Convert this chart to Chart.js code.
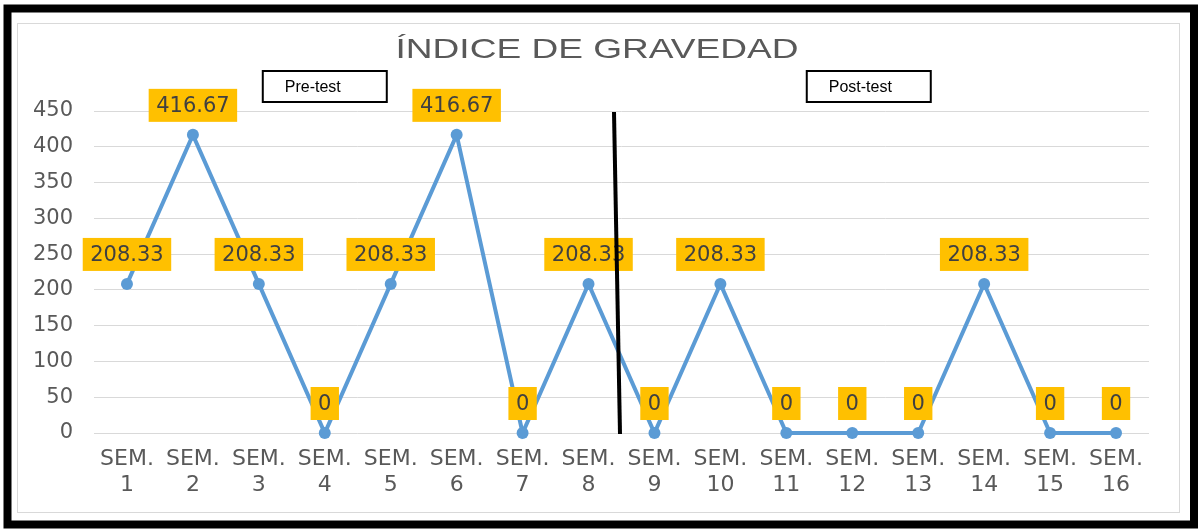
<!DOCTYPE html>
<html>
<head>
<meta charset="utf-8">
<script src="https://cdn.jsdelivr.net/npm/chart.js@4.4.1/dist/chart.umd.min.js"></script>
<style>
  html, body { margin: 0; padding: 0; background: #ffffff; }
  #wrap { width: 1198px; height: 529px; position: relative; }
  canvas { display: block; }
</style>
</head>
<body>
<div id="wrap"><canvas id="c" width="1198" height="529"></canvas></div>
<script>
// ---- data ----
const chartTitle = 'ÍNDICE DE GRAVEDAD';
const weekLabels = ['SEM. 1','SEM. 2','SEM. 3','SEM. 4','SEM. 5','SEM. 6','SEM. 7','SEM. 8',
                    'SEM. 9','SEM. 10','SEM. 11','SEM. 12','SEM. 13','SEM. 14','SEM. 15','SEM. 16'];
const indiceValues = [208.33, 416.67, 208.33, 0, 208.33, 416.67, 0, 208.33,
                      0, 208.33, 0, 0, 0, 208.33, 0, 0];
const yTickValues = [0, 50, 100, 150, 200, 250, 300, 350, 400, 450];
const phaseNames = ['Pre-test', 'Post-test'];
const phaseCenters = [3, 11.25];     // category position of the phase label boxes
const phaseDivider = 7.5;            // between SEM. 8 and SEM. 9

const LINE_BLUE = '#5B9BD5';
const LABEL_BG = '#FFC000';
const TEXT_GRAY = '#595959';
const GRID = '#d9d9d9';

const framePlugin = {
  id: 'frame',
  beforeDraw(chart) {
    const ctx = chart.ctx;
    ctx.save();
    ctx.fillStyle = '#ffffff';
    ctx.fillRect(0, 0, chart.width, chart.height);
    ctx.strokeStyle = GRID;
    ctx.lineWidth = 1;
    ctx.strokeRect(17.5, 23.5, 1162, 489);
    // title
    ctx.fillStyle = TEXT_GRAY;
    ctx.font = '28px "Liberation Sans", Arial, sans-serif';
    ctx.textAlign = 'center';
    ctx.textBaseline = 'alphabetic';
    const w = ctx.measureText(chartTitle).width;
    const sx = 403 / w;
    ctx.translate(597, 58);
    ctx.scale(sx, 1);
    ctx.fillText(chartTitle, 0, 0);
    ctx.restore();
  },
  afterDraw(chart) {
    const ctx = chart.ctx;
    ctx.save();
    ctx.strokeStyle = '#000000';
    ctx.lineWidth = 8;
    ctx.strokeRect(7.5, 8.5, 1186.5, 516);
    ctx.restore();
  }
};

const labelPlugin = {
  id: 'valueLabels',
  afterDatasetsDraw(chart) {
    const ctx = chart.ctx;
    const meta = chart.getDatasetMeta(0);
    const xs = chart.scales.x, ys = chart.scales.y;
    ctx.save();
    // value labels
    ctx.font = '21px "DejaVu Sans", sans-serif';
    ctx.textAlign = 'center';
    ctx.textBaseline = 'middle';
    meta.data.forEach((pt, i) => {
      const txt = String(indiceValues[i]);
      const tw = ctx.measureText(txt).width;
      const bw = tw + 15, bh = 33;
      const bx = pt.x - bw / 2;
      const by = pt.y - 13 - bh;
      ctx.fillStyle = LABEL_BG;
      ctx.fillRect(bx, by, bw, bh);
      ctx.fillStyle = '#404040';
      ctx.fillText(txt, pt.x, by + bh / 2 + 1);
    });
    // phase boxes
    ctx.font = '16px "Liberation Sans", Arial, sans-serif';
    ctx.textAlign = 'left';
    phaseNames.forEach((name, i) => {
      const cx = xs.getPixelForValue(phaseCenters[i]);
      const bw = 124, bh = 31;
      const bx = cx - bw / 2, by = 71;
      ctx.fillStyle = '#ffffff';
      ctx.fillRect(bx, by, bw, bh);
      ctx.strokeStyle = '#000000';
      ctx.lineWidth = 2;
      ctx.strokeRect(bx, by, bw, bh);
      ctx.fillStyle = '#000000';
      ctx.fillText(name, bx + 22, by + bh / 2 + 1);
    });
    // divider line
    const dx = xs.getPixelForValue(phaseDivider);
    ctx.strokeStyle = '#000000';
    ctx.lineWidth = 4;
    ctx.beginPath();
    ctx.moveTo(dx - 7.5, ys.getPixelForValue(450) + 1);
    ctx.lineTo(dx - 1.5, ys.getPixelForValue(0) + 1);
    ctx.stroke();
    ctx.restore();
  }
};

new Chart(document.getElementById('c'), {
  type: 'line',
  data: {
    labels: weekLabels.map(s => s.split(' ')),
    datasets: [{
      data: indiceValues,
      borderColor: LINE_BLUE,
      backgroundColor: LINE_BLUE,
      borderWidth: 4,
      pointRadius: 6,
      pointBorderWidth: 0,
      pointBackgroundColor: LINE_BLUE,
      tension: 0,
      fill: false,
      clip: false
    }]
  },
  options: {
    responsive: false,
    animation: false,
    events: [],
    layout: { padding: { top: 111, left: 20, right: 49, bottom: 20 } },
    plugins: {
      legend: { display: false },
      title: { display: false },
      tooltip: { enabled: false }
    },
    scales: {
      x: {
        offset: true,
        grid: { display: false, drawTicks: false },
        border: { display: false },
        ticks: {
          color: TEXT_GRAY,
          font: { family: '"DejaVu Sans", sans-serif', size: 22, lineHeight: 1.2 },
          padding: 13,
          maxRotation: 0,
          autoSkip: false
        },
        afterFit(scale) { scale.height = 76; }
      },
      y: {
        min: 0,
        max: 450,
        afterBuildTicks(scale) { scale.ticks = yTickValues.map(v => ({ value: v })); },
        grid: { color: GRID, lineWidth: 1, drawTicks: false },
        border: { display: false },
        ticks: {
          color: TEXT_GRAY,
          font: { family: '"DejaVu Sans", sans-serif', size: 21 },
          padding: 21
        },
        afterFit(scale) { scale.width = 74; }
      }
    }
  },
  plugins: [framePlugin, labelPlugin]
});
</script>
</body>
</html>
